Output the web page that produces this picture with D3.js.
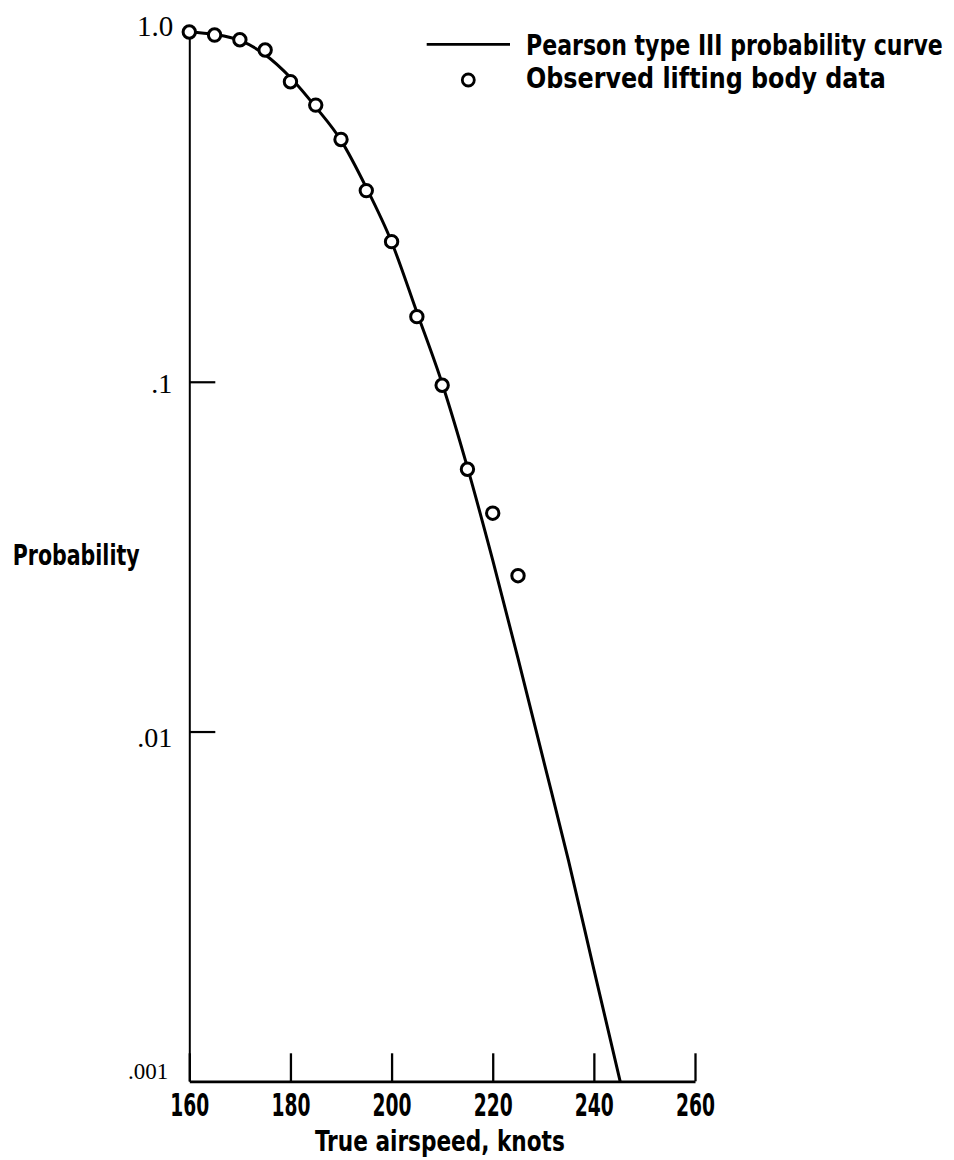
<!DOCTYPE html>
<html>
<head>
<meta charset="utf-8">
<script src="https://cdn.jsdelivr.net/npm/d3@7"></script>
<style>
  html, body { margin: 0; padding: 0; background: #fff; }
  svg { display: block; }
</style>
</head>
<body>
<svg id="chart" width="954" height="1160"></svg>
<script>
// ---- data ----
const speedTicks = [160, 180, 200, 220, 240, 260];
const probTicks = [1, 0.1, 0.01, 0.001];
const probTickLabels = ["1.0", ".1", ".01", ".001"];

// observed exceedance probabilities (lifting body landings)
const observedSpeed = [160, 165, 170, 175, 180, 185, 190, 195, 200, 205, 210, 215, 220, 225];
const observedProb  = [1.0, 0.98, 0.95, 0.888, 0.721, 0.618, 0.493, 0.352, 0.2515, 0.1535, 0.0977, 0.0562, 0.0421, 0.0279];

// fitted Pearson type III probability curve
const curveSpeed = [160, 165, 170, 175, 180, 185, 190, 195, 200, 205, 210, 215, 220, 225, 230, 235, 240, 245.2];
const curveProb  = [1.0, 0.984, 0.946, 0.861, 0.741, 0.610, 0.490, 0.359, 0.251, 0.158, 0.0989, 0.0569, 0.0309, 0.0162, 0.00832, 0.00427, 0.00209, 0.001];

const legendLabels = ["Pearson type III probability curve", "Observed lifting body data"];
const xTitle = "True airspeed, knots";
const yTitle = "Probability";

// ---- drawing ----
const sansNarrow = "'Liberation Sans Narrow', 'DejaVu Sans Condensed', 'Arial Narrow', sans-serif";
const serif = "'Liberation Serif', 'DejaVu Serif', serif";

const svg = d3.select("#chart");

// squeeze a text horizontally so it spans the given width, keeping its height
function fitWidth(sel, width) {
  sel.each(function () {
    const w = this.getComputedTextLength();
    if (!w) return;
    const s = width / w;
    const x0 = +this.getAttribute("x") || 0;
    const y0 = +this.getAttribute("y") || 0;
    d3.select(this)
      .attr("x", 0).attr("y", 0)
      .attr("transform", `translate(${x0},${y0}) scale(${s},1)`);
  });
}

const x = d3.scaleLinear().domain([160, 260]).range([189.3, 695]);
const y = d3.scaleLog().domain([0.001, 1]).range([1081.3, 32]);

// x axis along the bottom, ticks pointing up into the plot
const gx = svg.append("g")
  .attr("transform", `translate(0,${y(0.001)})`)
  .call(d3.axisBottom(x)
    .tickValues(speedTicks)
    .tickFormat(d3.format("d"))
    .tickSizeInner(-28)
    .tickSizeOuter(0));
gx.select(".domain").attr("stroke", "#000").attr("stroke-width", 2.7);
gx.selectAll(".tick line").attr("stroke", "#000").attr("stroke-width", 2.3);
gx.selectAll(".tick text")
  .attr("x", 0).attr("y", 35).attr("dy", 0)
  .attr("fill", "#000")
  .style("font-family", sansNarrow)
  .style("font-weight", "bold")
  .style("font-size", "32px")
  .call(fitWidth, 39);

// y axis (log), ticks pointing right into the plot
const labelFor = new Map(probTicks.map((p, i) => [p, probTickLabels[i]]));
const gy = svg.append("g")
  .attr("transform", `translate(${x(160)},0)`)
  .call(d3.axisLeft(y)
    .tickValues(probTicks)
    .tickFormat(d => labelFor.get(d))
    .tickSizeInner(-26)
    .tickSizeOuter(0));
gy.select(".domain").attr("stroke", "#000").attr("stroke-width", 2);
gy.selectAll(".tick line")
  .attr("stroke", "#000").attr("stroke-width", 2.2)
  .attr("display", d => (d === 1 || d === 0.001) ? "none" : null);

const yLabelStyle = {
  1:     { size: 29, dy: 3,  dx: -16 },
  0.1:   { size: 28, dy: 11, dx: -17 },
  0.01:  { size: 28, dy: 15, dx: -17 },
  0.001: { size: 23, dy: -3, dx: -21 }
};
gy.selectAll(".tick text")
  .attr("fill", "#000")
  .attr("x", d => yLabelStyle[d].dx)
  .attr("dy", 0)
  .attr("y", d => yLabelStyle[d].dy)
  .attr("text-anchor", "end")
  .style("font-family", serif)
  .style("font-size", d => yLabelStyle[d].size + "px");

// axis titles
svg.append("text")
  .attr("x", 12.7).attr("y", 565)
  .style("font-family", sansNarrow).style("font-weight", "bold").style("font-size", "28px")
  .attr("fill", "#000")
  .text(yTitle)
  .call(fitWidth, 127);

svg.append("text")
  .attr("x", 315).attr("y", 1151)
  .style("font-family", sansNarrow).style("font-weight", "bold").style("font-size", "29px")
  .attr("fill", "#000")
  .text(xTitle)
  .call(fitWidth, 250);

// fitted curve
const curvePts = curveSpeed.map((s, i) => [s, curveProb[i]]);
svg.append("path")
  .datum(curvePts)
  .attr("fill", "none")
  .attr("stroke", "#000")
  .attr("stroke-width", 3)
  .attr("stroke-linejoin", "round")
  .attr("d", d3.line()
    .x(d => x(d[0]))
    .y(d => y(d[1]))
    .curve(d3.curveMonotoneX));

// observed points
const obsPts = observedSpeed.map((s, i) => [s, observedProb[i]]);
svg.append("g").selectAll("circle")
  .data(obsPts)
  .join("circle")
  .attr("cx", d => x(d[0]))
  .attr("cy", d => y(d[1]))
  .attr("r", 6.2)
  .attr("fill", "#fff")
  .attr("stroke", "#000")
  .attr("stroke-width", 3);

// legend
const legend = svg.append("g");
legend.append("line")
  .attr("x1", 426.7).attr("x2", 510).attr("y1", 44.3).attr("y2", 44.3)
  .attr("stroke", "#000").attr("stroke-width", 2.7);
legend.append("circle")
  .attr("cx", 468.3).attr("cy", 80).attr("r", 6)
  .attr("fill", "#fff").attr("stroke", "#000").attr("stroke-width", 2.8);
const legendWidths = [417, 360];
legend.selectAll("text")
  .data(legendLabels)
  .join("text")
  .attr("x", 526)
  .attr("y", (d, i) => i === 0 ? 55 : 88.3)
  .style("font-family", sansNarrow).style("font-weight", "bold").style("font-size", "29px")
  .attr("fill", "#000")
  .text(d => d)
  .each(function (d, i) { d3.select(this).call(fitWidth, legendWidths[i]); });
</script>
</body>
</html>
